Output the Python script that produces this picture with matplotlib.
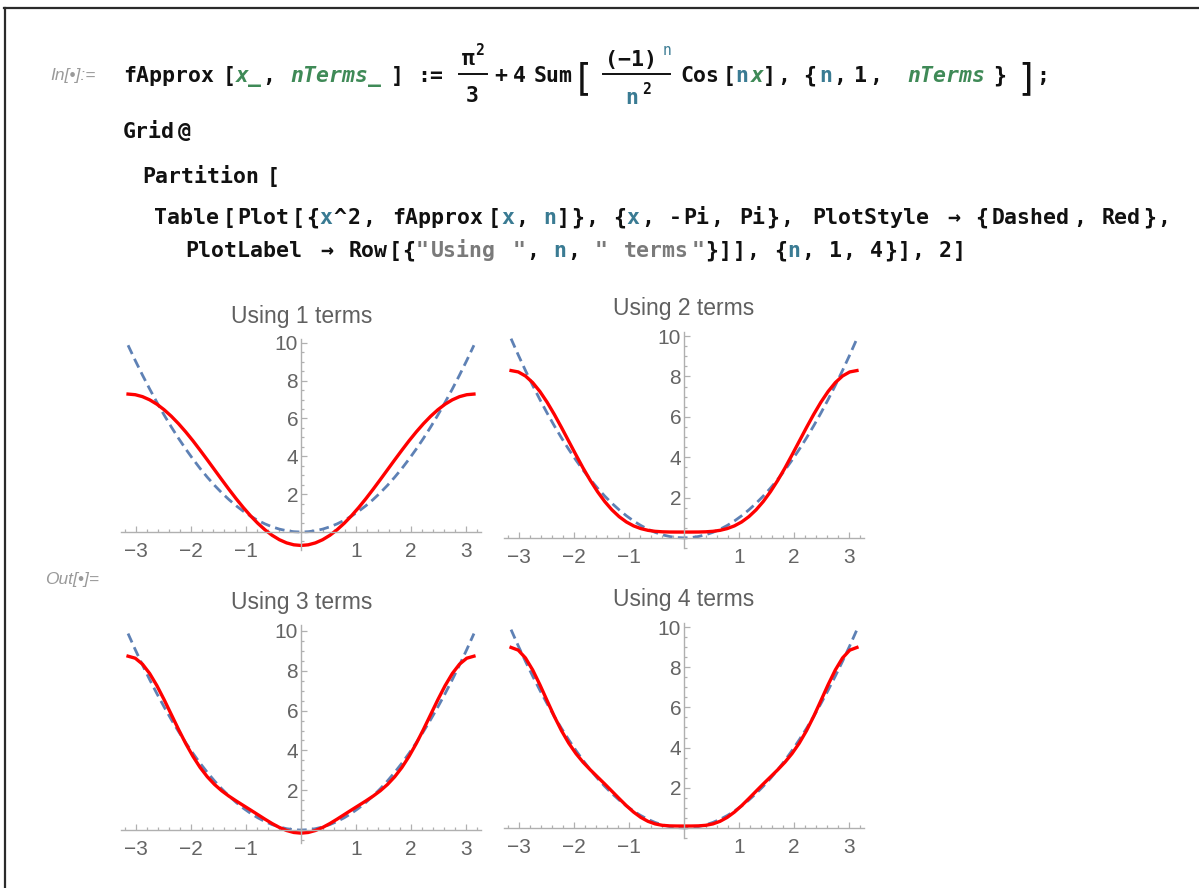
import re
import matplotlib
matplotlib.use("Agg")
import matplotlib.pyplot as plt
from matplotlib.lines import Line2D
from matplotlib.ticker import FixedLocator, MultipleLocator

# sample points (x >= 0), curves are even so the left half is the mirror image
x_half = [0.0, 0.131, 0.262, 0.393, 0.524, 0.654, 0.785, 0.916, 1.047, 1.178, 1.309, 1.440, 1.571,
          1.702, 1.833, 1.963, 2.094, 2.225, 2.356, 2.487, 2.618, 2.749, 2.880, 3.011, 3.142]
x_sq_half = [0.0, 0.017, 0.069, 0.154, 0.274, 0.428, 0.617, 0.840, 1.097, 1.388, 1.714, 2.073, 2.467,
             2.896, 3.358, 3.855, 4.387, 4.952, 5.552, 6.186, 6.854, 7.557, 8.293, 9.064, 9.870]
approx1_half = [-0.710, -0.676, -0.574, -0.406, -0.174, 0.117, 0.462, 0.855, 1.290, 1.759, 2.255, 2.768, 3.290,
                3.812, 4.325, 4.821, 5.290, 5.725, 6.118, 6.463, 6.754, 6.985, 7.154, 7.256, 7.290]
approx2_half = [0.290, 0.290, 0.292, 0.302, 0.326, 0.375, 0.462, 0.596, 0.790, 1.052, 1.389, 1.802, 2.290,
                2.846, 3.459, 4.114, 4.790, 5.466, 6.118, 6.722, 7.254, 7.693, 8.020, 8.222, 8.290]
approx3_half = [-0.155, -0.121, -0.022, 0.131, 0.326, 0.545, 0.776, 1.007, 1.234, 1.463, 1.703, 1.972, 2.290,
                2.676, 3.145, 3.703, 4.346, 5.056, 5.804, 6.552, 7.254, 7.863, 8.334, 8.632, 8.734]
approx4_half = [0.096, 0.096, 0.103, 0.131, 0.201, 0.329, 0.526, 0.790, 1.109, 1.463, 1.828, 2.189, 2.540,
                2.893, 3.270, 3.703, 4.221, 4.839, 5.554, 6.336, 7.129, 7.863, 8.459, 8.849, 8.984]

n_terms = [1, 2, 3, 4]
x_tick_vals = [-3, -2, -1, 1, 2, 3]
y_tick_vals = [2, 4, 6, 8, 10]


def mirror_x(h):
    return [-v for v in reversed(h)] + h[1:]


def mirror_y(h):
    return list(reversed(h)) + h[1:]


W, H = 1199, 888
fig = plt.figure(figsize=(W / 100, H / 100), dpi=100)
fig.patch.set_facecolor("white")

BLACK = "#111111"
GREEN = "#3f8a57"
TEAL = "#3a7b93"
STRG = "#7a7a7a"
MONO = "DejaVu Sans Mono"
CODE_FS = 15.5


def fx(px):
    return px / W


def fy(py):
    return 1 - py / H


def put(x, y, s, color=BLACK, style="normal", size=CODE_FS, weight="bold", family=MONO, ha="center"):
    fig.text(fx(x), fy(y), s, color=color, fontstyle=style, fontsize=size,
             fontweight=weight, family=family, ha=ha, va="baseline")


def code_line(pieces, x0, y, adv):
    # lay tokens out on a character grid so the line keeps Mathematica's width
    i = 0
    for text, color, style in pieces:
        for tok in re.findall(r"\w+|\s+|.", text):
            if not tok.isspace():
                put(x0 + (i + len(tok) / 2) * adv, y, tok, color, style)
            i += len(tok)


def hline(x0, x1, y, lw=1.4, color=BLACK):
    fig.add_artist(Line2D([fx(x0), fx(x1)], [fy(y), fy(y)], color=color, lw=lw))


# notebook frame
fig.add_artist(Line2D([fx(4), fx(W + 2)], [fy(8), fy(8)], color="#2b2b2b", lw=1.6))
fig.add_artist(Line2D([fx(4.5), fx(4.5)], [fy(8), fy(H)], color="#2b2b2b", lw=1.6))

# cell labels
put(50, 80, "In[•]:=", color="#9a9a9a", style="italic", size=12.5, weight="normal",
    family="Liberation Sans", ha="left")
put(45, 584, "Out[•]=", color="#9a9a9a", style="italic", size=12.5, weight="normal",
    family="Liberation Sans", ha="left")

# line 1: fApprox definition
y1 = 82
put(169, y1, "fApprox")
put(229, y1, "[")
put(249, y1, "x_", GREEN, "italic")
put(269, y1, ",")
put(336, y1, "nTerms_", GREEN, "italic")
put(397, y1, "]")
put(430, y1, ":=")
put(468, 65, "π")
put(480, 55, "2", size=10.5)
hline(459, 487, 74)
put(472, 102, "3")
put(501, y1, "+")
put(519, y1, "4")
put(553, y1, "Sum")
put(584, 89, "[", size=27, weight="normal", family="DejaVu Sans")
put(631, 66, "(−1)")
put(667, 55, "n", TEAL, size=10.5, weight="normal")
hline(603, 670, 74)
put(632, 104, "n", TEAL)
put(646, 94, "2", size=10.5)
put(700, y1, "Cos")
put(729, y1, "[")
put(742, y1, "n", TEAL)
put(757, y1, "x", GREEN, "italic")
put(769, y1, "]")
put(784, y1, ",")
put(810, y1, "{")
put(826, y1, "n", TEAL)
put(840, y1, ",")
put(860, y1, "1")
put(876, y1, ",")
put(946, y1, "nTerms", GREEN, "italic")
put(1000, y1, "}")
put(1026, 89, "]", size=27, weight="normal", family="DejaVu Sans")
put(1043, y1, ";")

# lines 2-5
code_line([("Grid@", BLACK, "normal")], 120, 138, 14.2)
code_line([("Partition[", BLACK, "normal")], 136, 183, 14.4)
code_line([("Table[Plot[{", BLACK, "normal"), ("x", TEAL, "normal"), ("^2, fApprox[", BLACK, "normal"),
           ("x", TEAL, "normal"), (", ", BLACK, "normal"), ("n", TEAL, "normal"),
           ("]}, {", BLACK, "normal"), ("x", TEAL, "normal"),
           (", -Pi, Pi}, PlotStyle → {Dashed, Red},", BLACK, "normal")], 152, 224, 13.95)
code_line([("PlotLabel → Row[{", BLACK, "normal"), ('"Using "', STRG, "normal"), (", ", BLACK, "normal"),
           ("n", TEAL, "normal"), (", ", BLACK, "normal"), ('" terms"', STRG, "normal"),
           ("}]], {", BLACK, "normal"), ("n", TEAL, "normal"), (", 1, 4}], 2]", BLACK, "normal")],
          182, 257, 13.75)

# plot panels: (left, right, top, bottom) in pixels, ylim, title centre
panels = [
    ((121, 481, 339, 550), (-0.95, 10.2), (302, 316)),
    ((504, 864, 332, 548), (-0.5, 10.2), (684, 308)),
    ((121, 481, 625, 843), (-0.65, 10.3), (302, 603)),
    ((504, 864, 623, 838), (-0.5, 10.2), (684, 599)),
]
approx_halves = [approx1_half, approx2_half, approx3_half, approx4_half]

AXC = "#b0b0b0"
LBC = "#646464"
xs = mirror_x(x_half)
parab = mirror_y(x_sq_half)

for (box, ylim, tpos), n, ah in zip(panels, n_terms, approx_halves):
    l, r, t, b = box
    ax = fig.add_axes([fx(l), fy(b), (r - l) / W, (b - t) / H])
    ax.set_facecolor("none")
    ax.plot(xs, parab, color="#5e81b5", lw=2.0, dashes=(3.5, 1.9))
    ax.plot(xs, mirror_y(ah), color="#ff0000", lw=2.4)
    ax.set_xlim(-3.27, 3.27)
    ax.set_ylim(*ylim)
    for side in ["top", "right"]:
        ax.spines[side].set_visible(False)
    ax.spines["left"].set_position(("data", 0))
    ax.spines["bottom"].set_position(("data", 0))
    for side in ["left", "bottom"]:
        ax.spines[side].set_color(AXC)
        ax.spines[side].set_linewidth(1.0)
    ax.xaxis.set_major_locator(FixedLocator(x_tick_vals))
    ax.yaxis.set_major_locator(FixedLocator(y_tick_vals))
    ax.xaxis.set_minor_locator(MultipleLocator(0.2))
    ax.yaxis.set_minor_locator(MultipleLocator(0.5))
    ax.tick_params(which="both", direction="in", color=AXC, width=0.9)
    ax.tick_params(which="major", length=4.5, labelsize=15, labelcolor=LBC)
    ax.tick_params(which="minor", length=2.5)
    ax.tick_params(axis="x", which="major", pad=7)
    ax.tick_params(axis="y", which="major", pad=2)
    for lab in ax.get_xticklabels() + ax.get_yticklabels():
        lab.set_family("Liberation Sans")
    fig.text(fx(tpos[0]), fy(tpos[1]), f"Using {n} terms", color="#606060", fontsize=16.5,
             family="Liberation Sans", ha="center", va="center")

fig.savefig("out.png", dpi=100, facecolor="white")
